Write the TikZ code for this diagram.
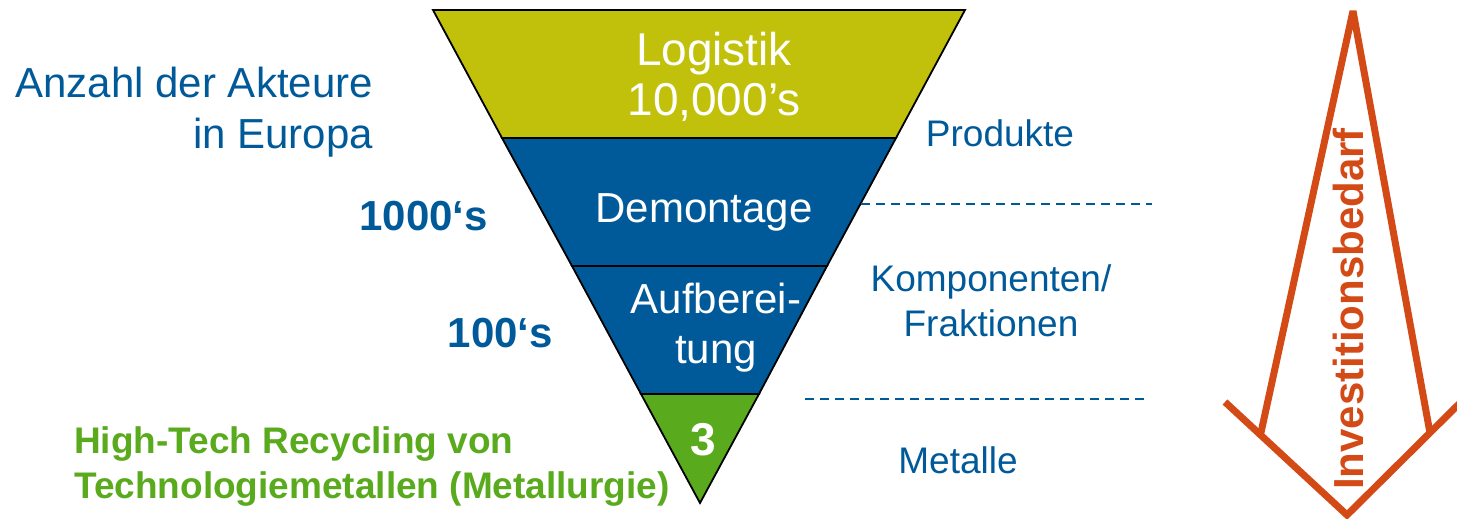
\documentclass[tikz,border=0pt]{standalone}
\usepackage{fontspec}
\setmainfont{Liberation Sans}
\usepackage{xcolor}
\usepackage{tikz}
\usetikzlibrary{positioning}
\definecolor{fyellow}{HTML}{C1C10C}
\definecolor{fblue}{HTML}{005A9A}
\definecolor{fgreen}{HTML}{5AAA1E}
\definecolor{forange}{HTML}{D44A16}
\tikzset{
  fband/.style={draw=black, line width=1.8pt},
  fin/.style={white, align=center, inner sep=0pt, font=\fontsize{42}{50}\selectfont},
  fcount/.style={fblue, inner sep=0pt, font=\bfseries\fontsize{42}{50}\selectfont},
  fside/.style={fblue, align=center, inner sep=0pt, font=\fontsize{37}{45}\selectfont},
  fsep/.style={fblue, line width=1.5pt, dash pattern=on 9pt off 6pt},
  finv/.style={forange, line width=7pt},
}

\begin{document}
\begin{tikzpicture}[x=1pt,y=-1pt]
  \useasboundingbox (0,0) rectangle (1457,519);

  % --- trichter ---
  \filldraw[fband, fill=fyellow] (433,10) -- (965,10) -- (896,138) -- (502,138) -- cycle;
  \filldraw[fband, fill=fblue] (502,138) -- (896,138) -- (827,266) -- (572,266) -- cycle;
  \filldraw[fband, fill=fblue] (572,266) -- (827,266) -- (759,394) -- (641,394) -- cycle;
  \filldraw[fband, fill=fgreen] (641,394) -- (759,394) -- (700,503) -- cycle;

  \node[fin, font=\fontsize{46}{50}\selectfont, anchor=base] (logistik) at (714,115) {Logistik\\10,000’s};
  \node[fin, anchor=base] (demontage) at (704,222) {Demontage};
  \node[fin, anchor=base] (aufbereitung) at (716,363) {Aufberei-\\tung};
  \node[fin, font=\bfseries\fontsize{46}{50}\selectfont, anchor=base] (metallurgie) at (703,455) {3};

  % --- links ---
  \node[fblue, align=right, inner sep=0pt, anchor=base east,
        font=\fontsize{42}{51}\selectfont] (akteure) at (373,148) {Anzahl der Akteure\\in Europa};
  \node[fcount, anchor=base east] (tausende) at (488,230) {1000‘s};
  \node[fcount, anchor=base east] (hunderte) at (553,347) {100‘s};
  \node[fgreen, align=left, inner sep=0pt, anchor=base west,
        font=\bfseries\fontsize{37}{45}\selectfont] (hightech) at (74,498)
        {High-Tech Recycling von\\Technologiemetallen (Metallurgie)};

  % --- rechts ---
  \node[fside, anchor=base] (produkte) at (1000,146) {Produkte};
  \node[fside, anchor=base] (komponenten) at (991,336) {Komponenten/\\Fraktionen};
  \node[fside, anchor=base] (metalle) at (958,473) {Metalle};

  \coordinate (sepA) at (861,204);
  \coordinate (sepB) at (1152,204);
  \coordinate (sepC) at (805,399);
  \coordinate (sepD) at (1148,399);
  \draw[fsep] (sepA) -- (sepB);
  \draw[fsep] (sepC) -- (sepD);

  % --- investitionsbedarf ---
  \draw[finv] (1225,402) -- (1347,515) -- (1465,398);
  \draw[finv, line join=bevel] (1260,437) -- (1353,11) -- (1430,433);
  \node[forange, rotate=90, anchor=base, inner sep=0pt,
        font=\bfseries\fontsize{42}{50}\selectfont] (bedarf) at (1363,309) {Investitionsbedarf};

\end{tikzpicture}
\end{document}
